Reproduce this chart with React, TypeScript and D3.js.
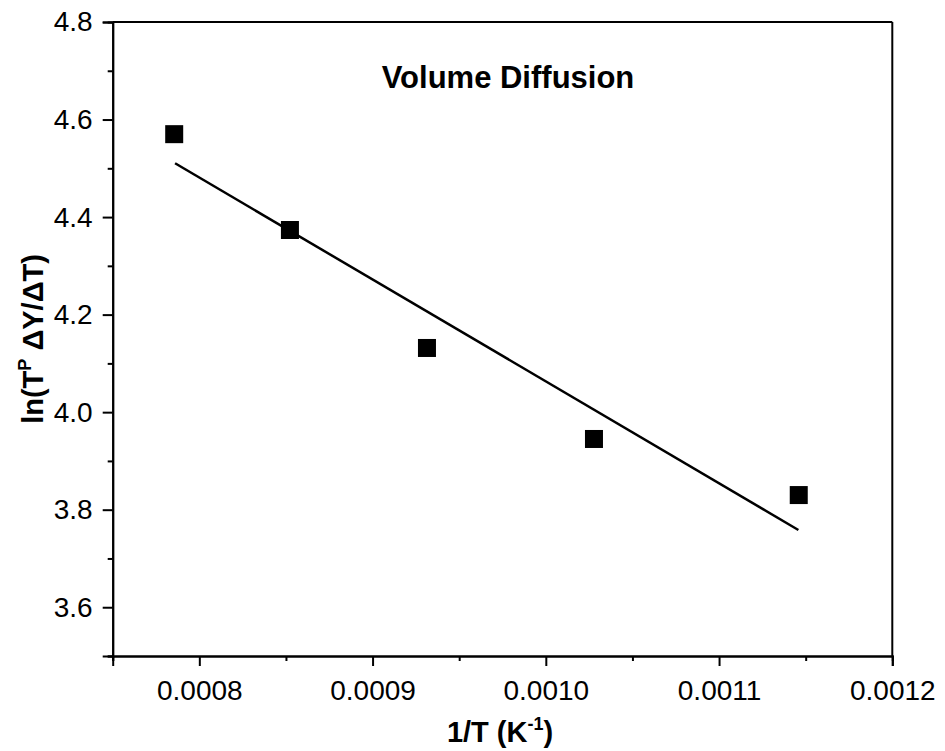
import React, { useEffect, useRef } from "react";
import * as d3 from "d3";

const xValues = [0.0007855, 0.0008523, 0.0009314, 0.0010278, 0.001146];
const yValues = [4.57, 4.3735, 4.1316, 3.945, 3.83];
const fitX = [0.000786, 0.0011458];
const fitY = [4.5103, 3.7584];
const xTicks = [0.0008, 0.0009, 0.001, 0.0011, 0.0012];
const xMinorTicks = [0.00075, 0.00085, 0.00095, 0.00105, 0.00115];
const yTicks = [3.6, 3.8, 4.0, 4.2, 4.4, 4.6, 4.8];
const yMinorTicks = [3.5, 3.7, 3.9, 4.1, 4.3, 4.5, 4.7];
const titleText = "Volume Diffusion";

const W = 945;
const H = 751;
const L = 112.7;
const R = 892.3;
const T = 22;
const B = 656;
const FONT = "Arial, 'Liberation Sans', sans-serif";

export default function App() {
  const ref = useRef<SVGSVGElement>(null);

  useEffect(() => {
    const svg = d3.select(ref.current);
    svg.selectAll("*").remove();
    const x = d3.scaleLinear().domain([0.00075, 0.0012]).range([L, R]);
    const y = d3.scaleLinear().domain([3.5, 4.8]).range([B, T]);

    // frame top/right
    svg.append("line").attr("x1", L).attr("x2", R).attr("y1", T).attr("y2", T)
      .attr("stroke", "#000").attr("stroke-width", 2);
    svg.append("line").attr("x1", R).attr("x2", R).attr("y1", T).attr("y2", B)
      .attr("stroke", "#000").attr("stroke-width", 2);

    const styleAxis = (g: any) => {
      g.select(".domain").attr("stroke-width", 2);
      g.selectAll(".tick line").attr("stroke-width", 2);
      g.selectAll("text").attr("font-family", FONT).attr("font-size", 28).attr("fill", "#000");
    };

    // minor ticks
    svg.append("g").attr("transform", `translate(0,${B})`)
      .call(d3.axisBottom(x).tickValues(xMinorTicks).tickSize(5).tickFormat(() => ""))
      .call(styleAxis);
    svg.append("g").attr("transform", `translate(${L},0)`)
      .call(d3.axisLeft(y).tickValues(yMinorTicks).tickSize(5).tickFormat(() => ""))
      .call(styleAxis);

    // major
    svg.append("g").attr("transform", `translate(0,${B})`)
      .call(d3.axisBottom(x).tickValues(xTicks).tickSize(10).tickPadding(14).tickFormat(d3.format(".4f")))
      .call(styleAxis);
    svg.append("g").attr("transform", `translate(${L},0)`)
      .call(d3.axisLeft(y).tickValues(yTicks).tickSize(10).tickPadding(10).tickFormat(d3.format(".1f")))
      .call(styleAxis);

    // fit line
    const line = d3.line<number>().x((d) => x(d)).y((_, i) => y(fitY[i]));
    svg.append("path").attr("d", line(fitX) as string).attr("fill", "none")
      .attr("stroke", "#000").attr("stroke-width", 2.5);

    // points
    const s = 18;
    svg.append("g").selectAll("rect").data(xValues).join("rect")
      .attr("x", (d) => x(d) - s / 2)
      .attr("y", (_, i) => y(yValues[i]) - s / 2)
      .attr("width", s).attr("height", s).attr("fill", "#000");

    // title
    svg.append("text").attr("x", 508).attr("y", 88).attr("text-anchor", "middle")
      .attr("font-family", FONT).attr("font-size", 31).attr("font-weight", "bold")
      .text(titleText);

    // x title
    const xt = svg.append("text").attr("x", 500).attr("y", 742).attr("text-anchor", "middle")
      .attr("font-family", FONT).attr("font-size", 29).attr("font-weight", "bold");
    xt.append("tspan").text("1/T (K");
    xt.append("tspan").attr("font-size", 18).attr("dy", -12).text("-1");
    xt.append("tspan").attr("dy", 12).text(")");

    // y title
    const yt = svg.append("text").attr("transform", `translate(43,${(T + B) / 2}) rotate(-90)`)
      .attr("text-anchor", "middle")
      .attr("font-family", FONT).attr("font-size", 29).attr("font-weight", "bold");
    yt.append("tspan").text("ln(T");
    yt.append("tspan").attr("font-size", 18).attr("dy", -12).text("P");
    yt.append("tspan").attr("dy", 12).text(" \u0394Y/\u0394T)");
  }, []);

  return (
    <svg ref={ref} width={W} height={H}
      style={{ position: "absolute", left: 0, top: 0, background: "#fff" }} />
  );
}
